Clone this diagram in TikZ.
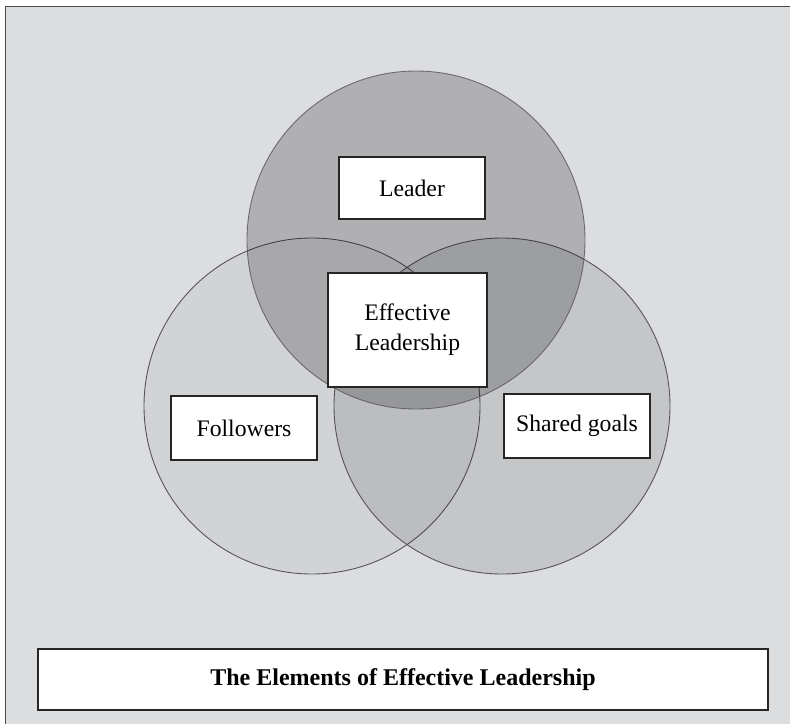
\documentclass[tikz,border=0pt]{standalone}
\usepackage{fontspec}
\setmainfont{Liberation Serif}
\definecolor{panel}{RGB}{220,221,223}
\definecolor{rim}{RGB}{85,85,88}
\begin{document}
\begin{tikzpicture}[x=1pt,y=-1pt,
  lbl/.style={draw=black!85, line width=1.3pt, fill=white, inner sep=0pt,
    font=\fontsize{23.7}{29.7}\selectfont, align=center},
  venn/.style={draw=rim, line width=0.9pt, fill=black}]
\useasboundingbox (0,0) rectangle (790,724);
\fill[white] (0,0) rectangle (790,724);
\fill[panel] (5.5,6.5) rectangle (790,724);
\draw[line width=1.6pt, black!70] (5.5,724) -- (5.5,6.5) -- (790,6.5);
% circles
\path[venn, fill opacity=0.045] (312,406) circle[radius=168];
\path[venn, fill opacity=0.10] (502,406) circle[radius=168];
\path[venn, fill opacity=0.20, draw opacity=0.8] (416,240) circle[radius=169];
% labels
\node[lbl, minimum width=146pt, minimum height=62pt] (leader) at (412,188) {Leader};
\node[lbl, minimum width=159pt, minimum height=114pt] (eff) at (407.5,330) {Effective\\Leadership};
\node[lbl, minimum width=146pt, minimum height=64pt] (fol) at (244,428) {Followers};
\node[lbl, minimum width=146pt, minimum height=64pt] (goals) at (577,426) {Shared goals};
\node[lbl, minimum width=730pt, minimum height=61pt, font=\fontsize{24}{28}\selectfont\bfseries] (title) at (403,679.5) {The Elements of Effective Leadership};
\end{tikzpicture}
\end{document}
